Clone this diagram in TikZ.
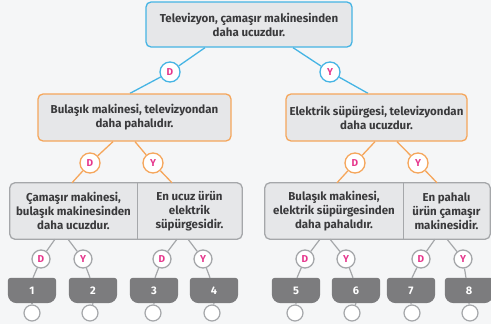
\documentclass[tikz,border=0pt]{standalone}
\usepackage{fontspec}
\setmainfont{Fira Sans}
\usetikzlibrary{calc}
\pgfdeclarelayer{bg}
\pgfdeclarelayer{lines}
\pgfsetlayers{bg,lines,main}
\definecolor{cblue}{HTML}{45B4E4}
\definecolor{corange}{HTML}{F5A65B}
\definecolor{cgray}{HTML}{A5A7AA}
\definecolor{boxfill}{HTML}{E6E7E9}
\definecolor{pagebg}{HTML}{F5F6F7}
\definecolor{txt}{HTML}{3A3A3C}
\definecolor{pinkc}{HTML}{E6378D}
\definecolor{leafc}{HTML}{7C7C7E}
\newcommand\leafshape[1]{\fill[leafc] (#1.west) [rounded corners=3pt] -- (#1.north west) -- (#1.north east) [rounded corners=9pt] -- (#1.south east) -- (#1.south west) [rounded corners=0pt] -- (#1.west) -- cycle;}
\begin{document}
\begin{tikzpicture}[x=1pt,y=-1pt,
  txtfont/.style={font=\bfseries\fontsize{11.5}{14}\selectfont, text=txt},
  box/.style={draw, line width=1.3pt, fill=boxfill, rounded corners=5pt, align=center, txtfont, inner sep=0pt},
  cell/.style={align=center, txtfont, inner sep=0pt, minimum height=56pt},
  frame/.style={draw=cgray, line width=1.3pt, fill=boxfill, rounded corners=5pt},
  dy/.style={circle, draw, fill=white, line width=1.3pt, minimum size=20pt, inner sep=0pt, text=pinkc, font=\bfseries\fontsize{10}{10}\selectfont},
  dyb/.style={dy, draw=cblue},
  dyo/.style={dy, draw=corange},
  dyg/.style={dy, draw=cgray, minimum size=18pt},
  leaf/.style={minimum width=48pt, minimum height=25pt, inner sep=0pt, text=white, font=\bfseries\fontsize{11}{11}\selectfont},
  empty/.style={circle, draw=cgray, fill=white, line width=1.2pt, minimum size=16pt, inner sep=0pt},
  conb/.style={draw=cblue, line width=1.3pt},
  cono/.style={draw=corange, line width=1.3pt},
  cong/.style={draw=cgray, line width=1.2pt}
]
\useasboundingbox (0,0) rectangle (491,324);
\begin{pgfonlayer}{bg}
\fill[pagebg] (0,0) rectangle (491,324);
\end{pgfonlayer}

% top
\node[box, draw=cblue, minimum width=206pt, minimum height=45pt] (top) at (249,24.5) {Televizyon, çamaşır makinesinden\\daha ucuzdur.};
\node[dyb] (d0) at (170,72) {D};
\node[dyb] (y0) at (330,72) {Y};

% middle
\node[box, draw=corange, minimum width=193pt, minimum height=47pt] (ml) at (134.5,117.5) {Bulaşık makinesi, televizyondan\\daha pahalıdır.};
\node[box, draw=corange, minimum width=181pt, minimum height=47pt] (mr) at (376.5,117.5) {Elektrik süpürgesi, televizyondan\\daha ucuzdur.};
\node[dyo] (d1) at (90,163) {D};
\node[dyo] (y1) at (153,163) {Y};
\node[dyo] (d2) at (355,163) {D};
\node[dyo] (y2) at (418,163) {Y};

% bottom cells
\node[cell, minimum width=127pt] (ca) at (73.5,211) {Çamaşır makinesi,\\bulaşık makinesinden\\daha ucuzdur.};
\node[cell, minimum width=105pt] (cb) at (189.5,211) {En ucuz ürün\\elektrik\\süpürgesidir.};
\node[cell, minimum width=138pt] (cc) at (334,211) {Bulaşık makinesi,\\elektrik süpürgesinden\\daha pahalıdır.};
\node[cell, minimum width=87pt] (cd) at (446.5,211) {En pahalı\\ürün çamaşır\\makinesidir.};

% leaf circles
\node[dyg] (ld1) at (41,259) {D};
\node[dyg] (ly1) at (83,259) {Y};
\node[dyg] (ld2) at (162,259) {D};
\node[dyg] (ly2) at (203,259) {Y};
\node[dyg] (ld3) at (305,259) {D};
\node[dyg] (ly3) at (346,259) {Y};
\node[dyg] (ld4) at (421,259) {D};
\node[dyg] (ly4) at (463,259) {Y};

% leaves
\node[leaf] (l1) at (32,290.5) {1};
\node[leaf] (l2) at (93,290.5) {2};
\node[leaf] (l3) at (154,290.5) {3};
\node[leaf] (l4) at (214,290.5) {4};
\node[leaf] (l5) at (296,290.5) {5};
\node[leaf] (l6) at (356,290.5) {6};
\node[leaf] (l7) at (411,290.5) {7};
\node[leaf] (l8) at (469,290.5) {8};

% empty circles
\node[empty] (e1) at (32,313) {};
\node[empty] (e2) at (90,313) {};
\node[empty] (e3) at (153,313) {};
\node[empty] (e4) at (212,313) {};
\node[empty] (e5) at (295,313) {};
\node[empty] (e6) at (352,313) {};
\node[empty] (e7) at (412,313) {};
\node[empty] (e8) at (470,313) {};

\begin{pgfonlayer}{lines}
% frames of the bottom boxes
\path[frame] (ca.north west) rectangle (cb.south east);
\draw[cong] (ca.north east) -- (ca.south east);
\path[frame] (cc.north west) rectangle (cd.south east);
\draw[cong] (cc.north east) -- (cc.south east);
% leaf shapes
\foreach \n in {l1,l2,l3,l4,l5,l6,l7,l8}{\leafshape{\n}}
% top connectors
\draw[conb] ([xshift=-44pt]top.south) -- (d0) -- ([xshift=-4.5pt]ml.north);
\draw[conb] ([xshift=44pt]top.south) -- (y0) -- ([xshift=-8.5pt]mr.north);
% middle connectors
\draw[cono] ([xshift=-21.5pt]ml.south) -- (d1) -- ([xshift=-1.5pt]ca.north);
\draw[cono] ([xshift=0.5pt]ml.south) -- (y1) -- ([xshift=-17.5pt]cb.north);
\draw[cono] ([xshift=-1.5pt]mr.south) -- (d2) -- ([xshift=3pt]cc.north);
\draw[cono] ([xshift=20.5pt]mr.south) -- (y2) -- ([xshift=-9.5pt]cd.north);
% bottom connectors
\draw[cong] ([xshift=-18.5pt]ca.south) -- (ld1) -- ([xshift=1pt]l1.north);
\draw[cong] ([xshift=-5.5pt]ca.south) -- (ly1) -- ([xshift=-3pt]l2.north);
\draw[cong] ([xshift=-12.5pt]cb.south) -- (ld2) -- ([xshift=1pt]l3.north);
\draw[cong] ([xshift=-1.5pt]cb.south) -- (ly2) -- ([xshift=-4pt]l4.north);
\draw[cong] ([xshift=-14pt]cc.south) -- (ld3) -- ([xshift=1pt]l5.north);
\draw[cong] ([xshift=-4pt]cc.south) -- (ly3) -- ([xshift=-3pt]l6.north);
\draw[cong] ([xshift=-11.5pt]cd.south) -- (ld4) -- ([xshift=1pt]l7.north);
\draw[cong] ([xshift=0.5pt]cd.south) -- (ly4) -- ([xshift=-3pt]l8.north);
% leaf to empty circles
\foreach \i in {1,...,8}{\draw[cong] (l\i.south) -- (e\i);}
\end{pgfonlayer}
\end{tikzpicture}
\end{document}
